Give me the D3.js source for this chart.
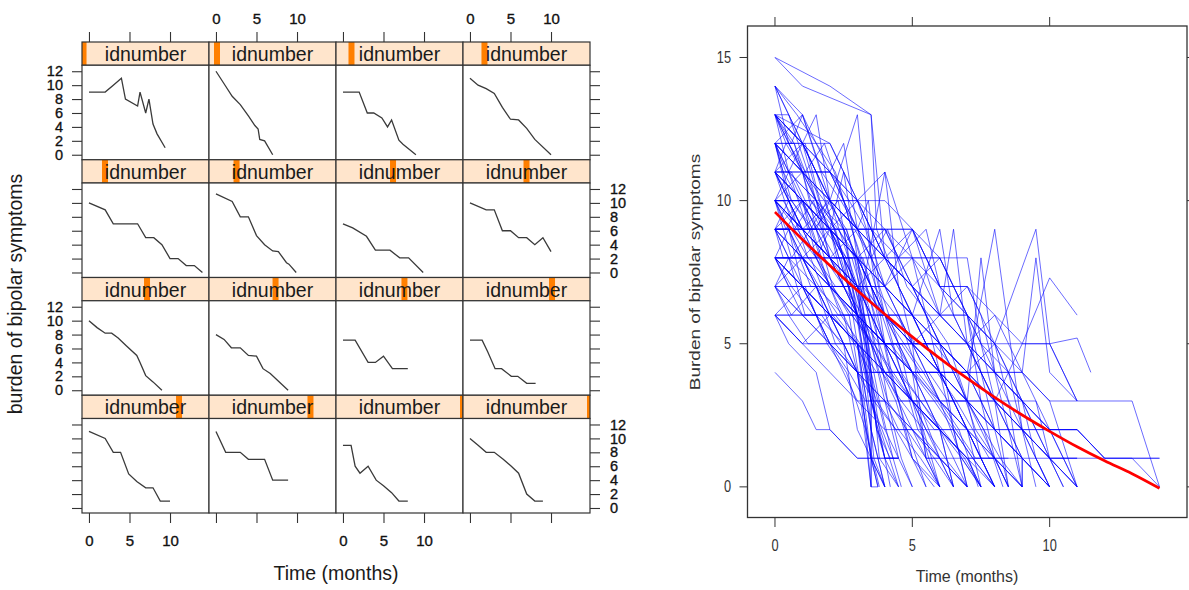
<!DOCTYPE html>
<html><head><meta charset="utf-8">
<script src="https://cdn.jsdelivr.net/npm/d3@7"></script>
<style>body{margin:0;background:#fff}svg{display:block}text{font-family:"Liberation Sans",Arial,sans-serif}</style>
</head><body><svg id="c" width="1189" height="590"></svg>
<script>
// ---------- Left (lattice) data: 16 subjects, row-major from top ----------
const stripLabel = "idnumber";
const stripLevels = [1.2, 6.3, 12.2, 16.9, 18.1, 21.7, 44.9, 50, 51.2, 52.4, 53.9, 70.1, 76.4, 79.9, 100, 100];
const panelSeries = [
  [[0,9],[2,9],[3,10],[4,11],[4.5,8],[6,7],[6.3,9],[7,6],[7.4,8],[7.9,4.4],[8.4,3],[9.4,1]],
  [[0,12],[1,10.2],[2,8.4],[3,7.2],[4,5.6],[4.8,4.2],[5.2,3.7],[5.4,2.2],[6,2],[7,0]],
  [[0,9],[2,9],[3,6],[3.8,6],[4.8,5.3],[5.5,4],[6,5],[6.9,2.1],[7.4,1.5],[9,0]],
  [[0,11],[1,10],[2,9.5],[3,8.8],[4,6.8],[5,5.1],[6,5],[7,3.8],[8,2.2],[10,0]],
  [[0,10],[2,9],[3,7],[6,7],[7,5],[8,5],[9,4],[10,2],[11,2],[12,1],[13,1],[14,0]],
  [[0,11.3],[2,10.2],[3,8],[4,8],[5,5.3],[6,4],[7,3.1],[7.7,3],[8.7,1.4],[9,1.2],[9.9,0]],
  [[0,7],[1.2,6.4],[2.9,5.2],[4,3.2],[5.8,3.2],[7,2.1],[8.1,2.1],[9.9,0]],
  [[0,10],[2,9],[3,9],[4,6],[5,6],[6,5],[7,5],[8,4],[9,5],[10,3]],
  [[0,10],[1,9],[2,8.2],[2.8,8.2],[3.6,7.5],[4.6,6.4],[5.9,5],[6.3,4],[7,2.1],[7.9,1.2],[9,0]],
  [[0,8],[1,7.3],[1.9,6.1],[3,6.1],[4,5],[5,4.9],[5.8,3.1],[6.7,2.4],[8.9,0]],
  [[0,7.2],[1.5,7.2],[3.1,4],[4,4],[5,4.9],[6.1,3.1],[8,3.1]],
  [[0,7.2],[1.5,7.2],[2.2,5.5],[3.1,3.1],[3.9,3.1],[5.1,2],[5.9,2],[7,1],[8.1,1]],
  [[0,11],[2,10],[3,8],[3.9,8],[4.9,4.9],[5.9,3.8],[7,2.9],[7.9,2.9],[8.8,1],[10,1]],
  [[0,11],[1.2,8],[3,8],[4,7],[6,7],[7,4],[8.9,4]],
  [[0,9],[1,9],[1.5,6],[2.1,5],[3.1,6],[4.1,4],[5,3.2],[6,2.2],[6.9,1],[8,1]],
  [[0,10],[1,9],[2,8],[3,8],[4.1,7],[5.1,6],[6,5],[7,2],[8,1],[9,1]]
];
const panelXTicks = [0, 5, 10];
const panelYTicks = [0, 2, 4, 6, 8, 10, 12];
const leftXLabel = "Time (months)";
const leftYLabel = "burden of bipolar symptoms";

// ---------- Right (spaghetti) data: flattened [t,v, t,v, ...] ----------
const subjects = [
  [0,15, 1,14, 3.5,13, 4,8, 5,6, 6,4, 6.5,2, 7,0],
  [0,15, 2,14, 3.5,13, 3.7,9, 4.5,7, 5.5,5, 6.5,3, 7.5,1, 8,0],
  [0,14, 1,12, 2,10, 3,9, 4,7, 5,5, 6,4, 7,2, 8,1, 9,0],
  [0,14, 0.5,13, 1.5,11, 2.5,8, 3,5, 3.5,2, 4,0],
  [0,14, 1,13, 2,11, 2.5,12, 3,9, 4,6, 5,4, 5.5,1, 6,0],
  [0,13, 1,12, 1.5,13, 2,10, 3,8, 3.5,4, 3.5,1, 3.75,0],
  [0,13, 1,11, 2,10, 3,13, 3.5,8, 4,5, 4.5,3, 5,1, 6,0],
  [0,13, 2,12, 3,10, 4,11, 5,8, 6,6, 7,5, 8,3, 9,1, 10,0],
  [0,13, 1,12, 2,11, 3,9, 4,7, 5,6, 6,4, 7,3, 8,1, 8.5,0],
  [0,13, 0.5,11, 1.5,10, 2.5,9, 3,6, 3.5,3, 4.5,0],
  [0,13, 1,11, 1.5,9, 2,10, 3,7, 4,5, 5,3, 6,2, 7,1, 7.5,0],
  [0,12, 1,11, 2,9, 3,7, 3.5,5, 4,3, 4.5,1, 5,0],
  [0,12, 1,12, 2,10, 3,8, 4,6, 5,4, 6,2, 6.5,0],
  [0,12, 1,10, 2,9, 2.5,11, 3,8, 4,6, 5,5, 6,3, 7,2, 8,0],
  [0,12, 0.5,10, 1,9, 2,8, 3,6, 3.5,3, 3.5,0, 3.75,0],
  [0,12, 1,11, 2,11, 3,10, 4,8, 5,7, 6,5, 7,4, 8,2, 9,1, 9,0],
  [0,11, 1,11, 2,11, 3,9, 4,8, 5,6, 6,5, 7,3, 8,2, 9,1, 10,0],
  [0,11, 1,10, 2,8, 3,7, 3.5,3, 4,1, 4.5,0],
  [0,11, 1,9, 2,9, 3,6, 4,5, 5,4, 6,2, 7,1, 7.5,0],
  [0,11, 0.5,11, 1.5,10, 2,8, 3,6, 4,11, 4.5,7, 5,5, 6,3, 7,2, 8,1, 8.5,0],
  [0,11, 1,9, 2,8, 3,8, 4,6, 5,6, 6,4, 7,4, 8,3, 9,2, 10,1, 11,1],
  [0,11, 1,10, 2,9, 3,7, 4,5, 5,5, 6,4, 7,2, 8,0],
  [0,10, 0.5,10, 1,9, 2,10, 3,10, 4,8, 5,7, 6,5, 7,4, 8,3, 9,2, 10,1, 11,0],
  [0,10, 1,9, 2,8, 3,6, 4,4, 5,3, 6,1, 7,0],
  [0,10, 1,10, 2,8, 3,7, 4,7, 5,6, 6,5, 7,4, 8,5, 9,4, 10,3, 13,3, 14,0],
  [0,10, 1,8, 2,7, 3,7, 3.5,4, 4,2, 4.5,1],
  [0,10, 1,9, 2,9, 3,8, 4,6, 5,5, 6,5, 7,3, 8,2, 9,2, 10,1, 11,1, 14,1],
  [0,10, 1,10, 1.5,8, 2,9, 3,6, 4,5, 5,3, 6,2, 7,0],
  [0,10, 1,8, 2,6, 3,5, 3.5,1, 3.5,0],
  [0,9, 1,9, 2,8, 3,8, 4,7, 5,9, 6,6, 7,5, 8,4, 9,3, 10,1, 11,0],
  [0,9, 1,8, 2,6, 3,5, 3.5,2, 4,0],
  [0,9, 0.5,8, 1.5,7, 2.5,6, 3,4, 3.5,1, 3.75,0],
  [0,9, 1,9, 2,9, 3,8, 4,7, 5,6, 6,9, 6.5,6, 7,5, 8,3, 9,2, 10,0],
  [0,9, 1,8, 2,8, 3,7, 4,5, 5,4, 6,4, 7,3, 8,2, 9,1, 10,0],
  [0,9, 1,7, 2,6, 3,6, 4,4, 5,3, 6,2, 7,1, 8,0],
  [0,9, 1,9, 2,7, 3,6, 4,6, 5,5, 6,6, 6.5,9, 7,5, 8,4, 9,3, 10,2, 11,2],
  [0,8, 1,8, 2,8, 3,8, 4,8, 5,8, 6,8, 7,8, 7.5,5, 8,3, 8.5,0],
  [0,8, 1,7, 2,6, 3,5, 3.5,3, 4,1, 4.5,1],
  [0,8, 1,7, 2,7, 3,6, 4,5, 5,4, 6,4, 7,3, 7.5,8, 8,4, 8.5,2, 9,0],
  [0,8, 0.5,9, 1,7, 2,6, 3,5, 4,4, 5,3, 6,2, 6.5,0],
  [0,8, 1,6, 2,5, 3,5, 4,5, 5,5, 6,5, 7,5, 8,5, 9,5, 10,5, 11,3],
  [0,8, 1,8, 2,6, 3,4, 4,3, 5,2, 6,1, 7,0],
  [0,8, 1,7, 2,6, 3,6, 4,5, 5,4, 6,3, 7,2, 7.5,0],
  [0,8, 1,8, 2,7, 3,6, 4,6, 5,5, 6,5, 7,4, 8,9, 9,2, 10,0],
  [0,7, 1,7, 2,5, 3,4, 3.5,1, 4,0],
  [0,7, 1,6, 2,6, 3,4, 4,4, 5,4, 6,4, 7,4, 8,4, 9,4, 9.5,8, 10,4, 11,3],
  [0,7, 1,6, 2,5, 3,3, 4,3, 5,3, 6,3, 7,3, 7.5,1, 8,0],
  [0,7, 0.5,6, 1.5,6, 2.5,5, 3,2, 3.5,1, 4.5,1],
  [0,7, 1,7, 2,6, 3,5, 4,4, 5,3, 6,2, 7,1, 8,1, 9,0],
  [0,6, 1,5, 2,5, 3,4, 4,3, 5,2, 6,1, 7,0],
  [0,6, 1,6, 2,6, 3,6, 4,6, 5,6, 6,6, 7,6, 7.5,3, 8,1, 8.5,0],
  [0,6, 1,5, 2,4, 3,3, 4,2, 4.5,2, 6,2, 8,2, 10,2, 11,2, 12,1],
  [0,6, 0.5,5, 1.5,4, 2,2, 3,1, 4.5,1],
  [0,6, 1,5, 2,6, 3,4, 3.5,0],
  [0,4, 1,3, 1.5,2, 2,2, 3,1, 3.5,1, 4,0],
  [0,10, 1,9, 2,8, 3,7, 4,7, 5,6, 6,5, 7,5, 8,6, 9,5, 10,7.3, 11,6],
  [0,9, 1,8, 2,7, 3,7, 4,6, 5,5, 6,4, 7,4, 8,3, 9,5, 10,5, 11,3],
  [0,11, 1,10, 2,9, 3,8, 4,8, 5,7, 6,6, 7,6, 8,5, 9.5,9, 10,5, 11,5.2, 11.5,4],
  [0,8, 1,7, 2,7, 3,6, 4,5, 5,5, 6,4, 7,3, 8,3, 9,2, 10,2, 11,2, 12,1, 13,1, 14,0],
  [0,12, 1,11, 2,10, 3,9, 4,8, 5,7, 6,6, 7,5, 8,4, 9,3, 10,2, 11,2, 12,1, 13,1, 14,1],
  [0,10, 1,11, 2,9, 3,8, 4,7, 5,5, 5.5,1, 6,0],
  [0,12, 1,13, 2,10, 3,9, 4,9, 5,7, 6,5, 6.5,2, 7,0],
  [0,9, 1,10, 2,9, 3,10, 4,7, 5,8, 5.5,6, 6,4, 7,2, 7.5,1],
  [0,11, 1,12, 2,10, 3,9, 4,9, 5,9, 6,7, 7,6, 8,4, 9,2, 10,1, 10.5,0],
  [0,13, 1,12, 2,12, 3,10, 4,8, 5,9, 6,7, 7,5, 8,3, 9,1, 9,0],
  [0,8, 1,7, 2,5, 3,4, 4,4, 5,2, 5.5,1, 7,1, 9,1, 11,1],
  [0,10, 1,9, 2,7, 3,5, 4,4, 5,4, 6,4, 7,4, 8,4, 9,4, 10,2, 11,0],
  [0,7, 1,8, 2,7, 3,6, 4,5, 5,3, 6,3, 7,3, 8,3, 9.5,3, 10,1, 10.5,0],
  [0,6, 1,7, 2,5, 3,5, 4,5, 5,5, 6,5, 7,4, 8,2, 9,1, 10,0],
  [0,13, 0.7,12, 1.3,10, 2.2,9, 2.8,7, 3.3,4, 3.6,1, 4,0],
  [0,12, 0.4,11, 1.2,11, 1.8,9, 2.6,8, 3.2,6, 3.7,2, 4.2,1],
  [0,11, 0.6,10, 1.4,9, 2.3,10, 2.9,7, 3.4,5, 3.8,1, 4.5,0],
  [0,10, 0.8,9, 1.6,8, 2.4,6, 3.1,5, 3.5,3, 4.3,1],
  [0,9, 0.6,9, 1.2,8, 2.1,7, 2.7,6, 3.2,3, 3.5,0],
  [0,8, 0.5,7, 1.1,7, 1.9,5, 2.6,4, 3.3,2, 3.8,0],
  [0,14, 0.8,13, 1.5,12, 2.2,11, 2.8,9, 3.5,7, 4.2,4, 4.8,2, 5.5,0],
  [0,13, 0.5,13, 1.2,11, 2,11, 2.7,10, 3.3,9, 4,6, 4.6,4, 5.2,2, 6,1, 6.5,0],
  [0,12, 0.7,12, 1.5,10, 2.3,9, 3,8, 3.6,5, 4.2,4, 5,3, 5.5,2, 6.2,1, 7,0],
  [0,11, 0.5,10, 1.3,10, 2,9, 2.5,7, 3.2,7, 4,6, 4.7,5, 5.4,4, 6,3, 6.8,1, 7.5,0],
  [0,10, 0.4,9, 1,10, 1.7,8, 2.4,8, 3,6, 3.8,5, 4.5,3, 5.2,3, 6,1, 6.5,0],
  [0,9, 0.5,10, 1.2,8, 1.8,8, 2.5,7, 3.2,6, 3.9,4, 4.6,3, 5.4,2, 6,0],
  [0,8, 0.6,8, 1.3,9, 2,7, 2.8,6, 3.5,5, 4.2,5, 5,4, 5.8,3, 6.5,2, 7.2,1, 8,0],
  [0,7, 0.6,6, 1.5,7, 2.2,5, 3,4, 3.6,3, 4.4,2, 5,1, 5.8,0],
  [0,6, 0.5,6, 1.2,5, 2,5, 2.7,4, 3.3,3, 4,3, 4.5,2, 5.3,1, 6,0],
  [0,13, 0.6,12, 1,13, 1.7,11, 2.4,10, 3,9, 3.4,10, 3.8,7, 4.5,5, 5,3, 5.6,1, 6,0],
  [0,12, 0.3,11, 0.9,10, 1.6,9, 2.2,8, 2.8,8, 3.4,6, 3.9,4, 4.4,3, 5,1, 5.5,0],
  [0,11, 0.4,12, 1,11, 1.8,10, 2.5,8, 3.1,6, 3.5,4, 3.8,2, 4.2,0],
  [0,10, 0.5,11, 1.2,9, 2,9, 2.6,8, 3.2,8, 3.8,6, 4.5,6, 5.2,4, 6,3, 6.7,2, 7.4,0],
  [0,9, 0.3,8, 1,8, 1.6,7, 2.3,6, 2.9,6, 3.5,5, 4.1,3, 4.8,2, 5.5,1, 6,1],
  [0,12, 0.5,11, 1,12, 1.6,10, 2.2,9, 2.9,9, 3.5,8, 4.1,9, 4.8,7, 5.6,6, 6.3,5, 7,3, 7.6,2, 8.3,0],
  [0,11, 0.7,9, 1.5,8, 2.2,7, 3,7, 3.6,7, 4.4,6, 5.1,5, 5.8,5, 6.6,4, 7.3,2, 8,1, 9,0],
  [0,10, 0.6,8, 1.3,8, 2.1,6, 2.9,5, 3.5,4, 4.3,4, 5,3, 5.8,2, 6.5,2, 7.2,1, 8,0],
  [0,9, 0.5,9, 1.3,7, 2.1,7, 2.8,6, 3.6,5, 4.3,4, 5.1,4, 5.9,3, 6.6,2, 7.3,1, 8,1],
  [0,8, 0.6,7, 1.4,6, 2.2,6, 3,5, 3.7,4, 4.5,4, 5.3,3, 6.1,2, 6.9,1, 7.5,0],
  [0,14, 0.5,12, 1.1,11, 1.8,12, 2.5,10, 3.1,8, 3.6,6, 4.1,3, 4.6,1, 5,0],
  [0,13, 0.4,12, 1.1,12, 1.9,9, 2.6,9, 3.3,7, 3.9,6, 4.6,4, 5.3,3, 6,2, 6.8,1, 7.5,0],
  [0,7, 0.5,8, 1.1,6, 1.7,6, 2.4,5, 3,5, 3.7,3, 4.4,2, 5,2, 5.8,1, 6.5,0],
  [0,11, 0.6,11, 1.1,10, 1.7,9, 2.3,9, 2.9,8, 3.4,5, 3.8,3, 4.3,1, 4.6,0],
  [0,10, 0.3,10, 0.9,9, 1.5,9, 2.1,7, 2.7,7, 3.3,5, 3.7,2, 4,1, 4.5,1],
  [0,9, 0.7,9, 1.4,10, 2,8, 2.7,7, 3.3,7, 4,5, 4.6,5, 5.3,4, 5.9,4, 6.6,3, 7.2,2, 7.8,1, 8.5,1],
  [0,12, 0.6,10, 1.3,9, 1.9,10, 2.6,9, 3.2,7, 3.8,5, 4.4,5, 5,4, 5.6,4, 6.3,3, 7,3, 7.6,2, 8.2,1, 9,0],
  [0,10, 1,10, 2,9, 3,9, 4,9, 5,9, 5.5,8, 6,7, 7,6, 7.5,4, 8,2, 8.5,0],
  [0,12, 1,11, 2,10, 3,10, 4,9, 5,8, 6,8, 6.5,7, 7,6, 8,5, 8.5,3, 9,0],
  [0,11, 1,10, 2,10, 3,9, 3.5,9, 4.5,8, 5.5,9, 6,7, 7,7, 8,6, 9,4, 10,3, 11,0],
  [0,9, 1,9, 2,8, 3,9, 4,8, 5,8, 6,7, 7,7, 7.5,6, 8,4, 9,3, 9.5,1, 10,0],
  [0,13, 1,12, 2,11, 3,10, 4,10, 5,9, 6,8, 7,6, 8,5, 8.5,4, 9,2, 9.5,0],
  [0,10, 1,9, 2,9, 3,8, 4,9, 5,7, 6,8, 7,6, 7.5,5, 8.5,4, 9,3, 10,1, 11,0],
  [0,8, 1,8, 2,9, 3,7, 4,8, 5,7, 6,6, 7,7, 8,5, 9,3, 10,2, 11,0]
];
const fitTimes  = [0, 1, 2, 3, 4, 5, 6, 7, 8, 9, 10, 11, 12, 13, 14];
const fitValues = [9.6, 8.64, 7.73, 6.86, 6.03, 5.24, 4.49, 3.79, 3.13, 2.51, 1.94, 1.40, 0.91, 0.46, -0.05];
const rightXTicks = [0, 5, 10];
const rightYTicks = [0, 5, 10, 15];
const rightXLabel = "Time (months)";
const rightYLabel = "Burden of bipolar symptoms";

// ---------- Drawing ----------
const svg = d3.select("#c");
const FONT = '"Liberation Sans", Arial, sans-serif';

const colW = 127, left0 = 82, top0 = 42, stripH = 23.25, panelH = 94.5, rowH = 117.75;
const xP = d3.scaleLinear().domain([-0.86, 14.81]).range([0, colW]);
const yP = d3.scaleLinear().domain([-0.72, 12.86]).range([panelH, 0]);
const lvl = d3.scaleLinear().domain([0, 100]).range([0, colW]);
const lineP = d3.line().x(d => xP(d[0])).y(d => yP(d[1]));
const fmt = d3.format("d");

function styleAxis(g, size) {
  g.select(".domain").remove();
  g.selectAll(".tick line").attr("stroke", "#333").attr("stroke-width", 1.1);
  g.selectAll(".tick text").attr("font-family", FONT).attr("font-size", size).attr("fill", "#111")
    .attr("stroke", "#111").attr("stroke-width", 0.35);
  g.attr("font-family", null).attr("font-size", null);
}

const L = svg.append("g");
panelSeries.forEach((series, i) => {
  const r = Math.floor(i / 4), c = i % 4;
  const gx = left0 + c * colW, gy = top0 + r * rowH;
  const g = L.append("g").attr("transform", `translate(${gx},${gy})`);
  g.append("rect").attr("x", 0).attr("y", 0).attr("width", colW).attr("height", stripH)
    .attr("fill", "#ffe5cc");
  const cx = lvl(stripLevels[i]);
  const bx0 = Math.max(0, cx - 3), bx1 = Math.min(colW, cx + 3);
  g.append("rect").attr("x", bx0).attr("y", 0).attr("width", bx1 - bx0).attr("height", stripH)
    .attr("fill", "#ff7f00");
  g.append("text").attr("x", colW / 2).attr("y", 19.2).attr("text-anchor", "middle")
    .attr("font-size", 19.5).attr("fill", "#1a1a1a").text(stripLabel);
  g.append("rect").attr("x", 0).attr("y", 0).attr("width", colW).attr("height", stripH)
    .attr("fill", "none").attr("stroke", "#333").attr("stroke-width", 1.2);
  const p = g.append("g").attr("transform", `translate(0,${stripH})`);
  p.append("rect").attr("width", colW).attr("height", panelH).attr("fill", "#fff")
    .attr("stroke", "#333").attr("stroke-width", 1.2);
  p.append("path").datum(series).attr("d", lineP).attr("fill", "none")
    .attr("stroke", "#3a3a3a").attr("stroke-width", 1.3);
  const py = gy + stripH;
  if (c === 0) {
    const a = L.append("g").attr("transform", `translate(${left0},${py})`)
      .call(d3.axisLeft(yP).tickValues(panelYTicks).tickSize(10).tickPadding(9)
        .tickFormat(r % 2 === 0 ? fmt : () => ""));
    styleAxis(a, 14.5);
  }
  if (c === 3) {
    const a = L.append("g").attr("transform", `translate(${left0 + 4 * colW},${py})`)
      .call(d3.axisRight(yP).tickValues(panelYTicks).tickSize(10).tickPadding(10)
        .tickFormat(r % 2 === 1 ? fmt : () => ""));
    styleAxis(a, 14.5);
  }
  if (r === 0) {
    const a = L.append("g").attr("transform", `translate(${gx},${top0})`)
      .call(d3.axisTop(xP).tickValues(panelXTicks).tickSize(10).tickPadding(8)
        .tickFormat(c % 2 === 1 ? fmt : () => ""));
    styleAxis(a, 15);
  }
  if (r === 3) {
    const a = L.append("g").attr("transform", `translate(${gx},${py + panelH})`)
      .call(d3.axisBottom(xP).tickValues(panelXTicks).tickSize(10).tickPadding(12)
        .tickFormat(c % 2 === 0 ? fmt : () => ""));
    styleAxis(a, 15);
  }
});
L.append("text").attr("x", left0 + 2 * colW).attr("y", 580).attr("text-anchor", "middle")
  .attr("font-size", 19.5).attr("fill", "#1a1a1a").text(leftXLabel);
L.append("text").attr("transform", "translate(22,294) rotate(-90)").attr("text-anchor", "middle")
  .attr("font-size", 19.5).attr("fill", "#1a1a1a").text(leftYLabel);

// Right chart
const xR = d3.scaleLinear().domain([-1, 15]).range([747.5, 1187]);
const yR = d3.scaleLinear().domain([-1.07, 16.1]).range([517.5, 26]);
const R = svg.append("g");
const lineR = d3.line().x(d => xR(d[0])).y(d => yR(d[1]));
const toPairs = arr => { const out = []; for (let k = 0; k < arr.length; k += 2) out.push([arr[k], arr[k + 1]]); return out; };
R.append("g").selectAll("path").data(subjects.map(toPairs)).join("path")
  .attr("d", lineR).attr("fill", "none").attr("stroke", "#0000ff")
  .attr("stroke-opacity", 0.58).attr("stroke-width", 1);
R.append("path").datum(fitTimes.map((t, k) => [t, fitValues[k]]))
  .attr("d", d3.line().curve(d3.curveMonotoneX).x(d => xR(d[0])).y(d => yR(d[1])))
  .attr("fill", "none").attr("stroke", "#ff0000").attr("stroke-width", 2.7);
R.append("rect").attr("x", 747.5).attr("y", 26).attr("width", 1187 - 747.5).attr("height", 517.5 - 26)
  .attr("fill", "none").attr("stroke", "#333").attr("stroke-width", 1.3);
rightXTicks.forEach(t => {
  R.append("line").attr("x1", xR(t)).attr("x2", xR(t)).attr("y1", 517.5).attr("y2", 527).attr("stroke", "#333");
  R.append("line").attr("x1", xR(t)).attr("x2", xR(t)).attr("y1", 26).attr("y2", 17).attr("stroke", "#333");
  R.append("text").attr("transform", `translate(${xR(t)},551) scale(0.8,1)`).attr("text-anchor", "middle")
    .attr("font-size", 16).attr("fill", "#333").text(t);
});
rightYTicks.forEach(v => {
  R.append("line").attr("x1", 747.5).attr("x2", 739.5).attr("y1", yR(v)).attr("y2", yR(v)).attr("stroke", "#333");
  R.append("line").attr("x1", 1187).attr("x2", 1195).attr("y1", yR(v)).attr("y2", yR(v)).attr("stroke", "#333");
  R.append("text").attr("transform", `translate(731,${yR(v) + 5.5}) scale(0.8,1)`).attr("text-anchor", "end")
    .attr("font-size", 16).attr("fill", "#333").text(v);
});
R.append("text").attr("x", 967).attr("y", 582).attr("text-anchor", "middle")
  .attr("font-size", 16).attr("fill", "#333").text(rightXLabel);
R.append("text").attr("transform", "translate(700,272) scale(0.8,1) rotate(-90)").attr("text-anchor", "middle")
  .attr("font-size", 19).attr("fill", "#333").text(rightYLabel);
</script></body></html>
